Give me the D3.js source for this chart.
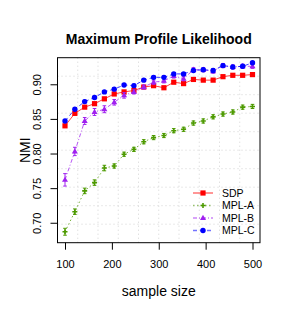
<!DOCTYPE html>
<html>
<head>
<meta charset="utf-8">
<script src="https://cdn.jsdelivr.net/npm/d3@7"></script>
<style>
  body { margin: 0; background: #fff; }
  svg { display: block; font-family: "Liberation Sans", Arial, sans-serif; }
</style>
</head>
<body>
<svg id="chart" width="289" height="315"></svg>
<script>
// sample sizes (20 points from 100 to 500)
const sampleSizes = [100, 121, 142, 163, 184, 205, 226, 247, 268, 289,
                     311, 332, 353, 374, 395, 416, 437, 458, 479, 500];

const sdp  = [0.840, 0.858, 0.867, 0.872, 0.879, 0.886, 0.889, 0.891, 0.896, 0.898,
              0.895, 0.903, 0.901, 0.907, 0.906, 0.906, 0.911, 0.913, 0.913, 0.914];
const mplA = [0.687, 0.716, 0.746, 0.758, 0.779, 0.782, 0.799, 0.806, 0.817, 0.823,
              0.826, 0.833, 0.835, 0.844, 0.847, 0.853, 0.857, 0.860, 0.867, 0.868];
const mplB = [0.762, 0.803, 0.847, 0.860, 0.864, 0.874, 0.884, 0.889, 0.896, 0.903,
              0.905, 0.912, 0.908, 0.921, 0.921, 0.919, 0.927, 0.925, 0.926, 0.926];
const mplC = [0.847, 0.864, 0.875, 0.881, 0.889, 0.893, 0.899, 0.898, 0.906, 0.910,
              0.910, 0.915, 0.915, 0.920, 0.921, 0.920, 0.927, 0.925, 0.926, 0.931];

// half-widths of the error bars
const sdpErr  = [0.002, 0.002, 0.002, 0.002, 0.002, 0.002, 0.002, 0.002, 0.002, 0.002,
                 0.002, 0.002, 0.002, 0.002, 0.002, 0.002, 0.002, 0.002, 0.002, 0.002];
const mplAErr = [0.005, 0.004, 0.004, 0.004, 0.004, 0.003, 0.003, 0.003, 0.003, 0.003,
                 0.003, 0.003, 0.003, 0.003, 0.003, 0.003, 0.003, 0.003, 0.003, 0.003];
const mplBErr = [0.009, 0.006, 0.005, 0.005, 0.005, 0.004, 0.004, 0.003, 0.003, 0.003,
                 0.003, 0.003, 0.003, 0.003, 0.003, 0.003, 0.003, 0.003, 0.003, 0.003];
const mplCErr = [0.002, 0.002, 0.002, 0.002, 0.002, 0.002, 0.002, 0.002, 0.002, 0.002,
                 0.002, 0.002, 0.002, 0.002, 0.002, 0.002, 0.002, 0.002, 0.002, 0.002];

const xTicks = [100, 200, 300, 400, 500];
const yTicks = [0.70, 0.75, 0.80, 0.85, 0.90];
const seriesNames = ['SDP', 'MPL-A', 'MPL-B', 'MPL-C'];

const series = [
  { name: seriesNames[0], values: sdp,  err: sdpErr,  color: '#ff0000', dash: null,      shape: 'square' },
  { name: seriesNames[1], values: mplA, err: mplAErr, color: '#4d9a00', dash: '1.5,2.5', shape: 'plus' },
  { name: seriesNames[2], values: mplB, err: mplBErr, color: '#a020f0', dash: '4,2,1,2', shape: 'triangle' },
  { name: seriesNames[3], values: mplC, err: mplCErr, color: '#0000ff', dash: '4,3',     shape: 'circle' }
];

// plot box
const box = { left: 57.5, right: 260, top: 57.7, bottom: 242.7 };

const svg = d3.select('#chart');

const x = d3.scaleLinear().domain([84, 516]).range([box.left, box.right]);
const y = d3.scaleLinear().domain([0.6712, 0.9384]).range([box.bottom, box.top]);

// grid 10 x 10
const grid = svg.append('g').attr('stroke', '#d3d3d3').attr('stroke-dasharray', '1,3');
for (let k = 1; k < 10; k++) {
  const gx = box.left + (box.right - box.left) * k / 10;
  const gy = box.top + (box.bottom - box.top) * k / 10;
  grid.append('line').attr('x1', gx).attr('x2', gx).attr('y1', box.top).attr('y2', box.bottom);
  grid.append('line').attr('x1', box.left).attr('x2', box.right).attr('y1', gy).attr('y2', gy);
}

// axes
const xAxis = svg.append('g')
  .attr('transform', `translate(0,${box.bottom})`)
  .call(d3.axisBottom(x).tickValues(xTicks).tickSize(7).tickPadding(11).tickFormat(d3.format('d')));
xAxis.select('.domain').remove();
xAxis.selectAll('text').attr('font-size', 11).attr('font-family', 'Liberation Sans, Arial, sans-serif').attr('fill', '#000');

const yAxis = svg.append('g')
  .attr('transform', `translate(${box.left},0)`)
  .call(d3.axisLeft(y).tickValues(yTicks).tickSize(7).tickFormat(d3.format('.2f')));
yAxis.select('.domain').remove();
yAxis.selectAll('text')
  .attr('font-size', 11)
  .attr('font-family', 'Liberation Sans, Arial, sans-serif')
  .attr('fill', '#000')
  .attr('text-anchor', 'middle')
  .attr('x', 0).attr('dy', null)
  .attr('transform', 'translate(-16.5,0) rotate(-90)');

// lines, error bars, markers
const line = d3.line().x((d, i) => x(sampleSizes[i])).y(d => y(d));

function drawMarker(g, shape, cx, cy, color) {
  if (shape === 'square') {
    g.append('rect').attr('x', cx - 2.6).attr('y', cy - 2.6).attr('width', 5.2).attr('height', 5.2).attr('fill', color);
  } else if (shape === 'circle') {
    g.append('circle').attr('cx', cx).attr('cy', cy).attr('r', 2.7).attr('fill', color);
  } else if (shape === 'triangle') {
    g.append('path').attr('d', `M${cx},${cy - 3.2}L${cx + 3},${cy + 2}L${cx - 3},${cy + 2}Z`).attr('fill', color);
  } else {
    g.append('path').attr('d', `M${cx - 2.5},${cy}H${cx + 2.5}M${cx},${cy - 2.5}V${cy + 2.5}`)
      .attr('stroke', color).attr('stroke-width', 1.6);
  }
}

series.forEach(s => {
  const g = svg.append('g');
  g.append('path')
    .attr('d', line(s.values))
    .attr('fill', 'none')
    .attr('stroke', s.color)
    .attr('stroke-opacity', 0.75)
    .attr('stroke-width', 1)
    .attr('stroke-dasharray', s.dash);
  s.values.forEach((v, i) => {
    const cx = x(sampleSizes[i]);
    const y1 = y(v - s.err[i]);
    const y2 = y(v + s.err[i]);
    g.append('path')
      .attr('d', `M${cx},${y1}V${y2}M${cx - 1.8},${y1}H${cx + 1.8}M${cx - 1.8},${y2}H${cx + 1.8}`)
      .attr('stroke', s.color).attr('stroke-width', 1).attr('fill', 'none');
    drawMarker(g, s.shape, cx, y(v), s.color);
  });
});

// box
svg.append('rect')
  .attr('x', box.left).attr('y', box.top)
  .attr('width', box.right - box.left).attr('height', box.bottom - box.top)
  .attr('fill', 'none').attr('stroke', '#000').attr('stroke-width', 1);

// legend
const legend = svg.append('g');
series.forEach((s, i) => {
  const ly = 193 + i * 12.5;
  legend.append('line')
    .attr('x1', 193).attr('x2', 213).attr('y1', ly).attr('y2', ly)
    .attr('stroke', s.color).attr('stroke-opacity', 0.55).attr('stroke-width', 1.5)
    .attr('stroke-dasharray', s.dash);
  drawMarker(legend, s.shape, 203, ly, s.color);
  legend.append('text')
    .attr('x', 222).attr('y', ly).attr('dy', '0.36em')
    .attr('font-size', 10.5).text(s.name);
});

// title and axis labels
svg.append('text')
  .attr('x', (box.left + box.right) / 2).attr('y', 43.5)
  .attr('text-anchor', 'middle').attr('font-size', 14).attr('font-weight', 'bold')
  .text('Maximum Profile Likelihood');

svg.append('text')
  .attr('x', (box.left + box.right) / 2).attr('y', 296)
  .attr('text-anchor', 'middle').attr('font-size', 14)
  .text('sample size');

svg.append('text')
  .attr('transform', `translate(30,${(box.top + box.bottom) / 2}) rotate(-90)`)
  .attr('text-anchor', 'middle').attr('font-size', 14)
  .text('NMI');
</script>
</body>
</html>
